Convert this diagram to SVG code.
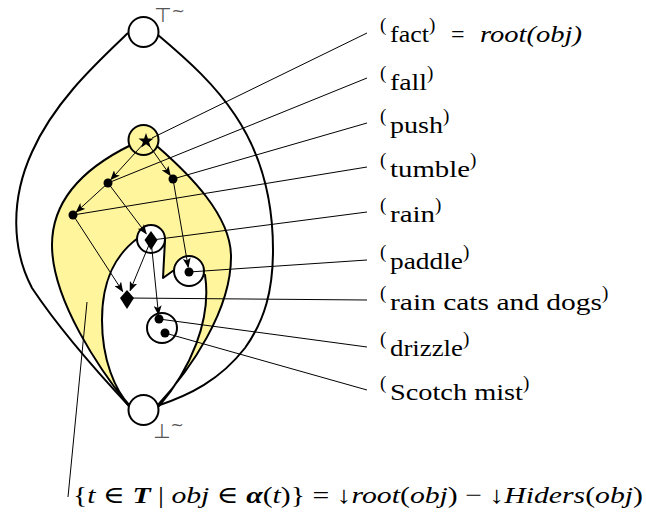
<svg xmlns="http://www.w3.org/2000/svg" width="646" height="520" viewBox="0 0 646 520">
<defs>
<style>
.bd{fill:none;stroke:#000;stroke-width:2}
.ci{stroke:#000;stroke-width:2}
.ld{stroke:#000;stroke-width:1;fill:none}
.ar{stroke:#000;stroke-width:1;fill:none;marker-end:url(#ah)}
.lb{font-family:"Liberation Serif","DejaVu Serif",serif;font-size:24px;fill:#000}
.pr{font-size:19px}
.it{font-style:italic}
.gl{font-family:"DejaVu Sans","Liberation Sans",sans-serif;font-size:20px;fill:#555}
</style>
<marker id="ah" viewBox="0 0 10 8" refX="9" refY="4" markerWidth="10" markerHeight="8" markerUnits="userSpaceOnUse" orient="auto">
<path d="M0,0 L10,4 L0,8 L2.5,4 Z" fill="#000"/>
</marker>
</defs>
<rect width="646" height="520" fill="#fff"/>
<g id="regions">
<path class="bd" d="M128,33 C 100,60 55,100 32,152 C 10,200 12,250 32,288 C 60,330 100,375 129,406 M158,35 C 190,62 215,85 235,115 C 262,155 273,200 273,250 C 273,290 265,320 245,348 C 220,380 190,395 157,406"/>
<path d="M131,145 C 90,165 52,195 52,245 C 52,300 100,370 129,406 L157,406 C 190,370 232,310 231,255 C 230,215 190,175 158,147 Z M138,238 C 115,255 102,280 102,320 C 102,360 115,390 130,406 L159,406 C 190,370 212,320 205,275 L177,268 L163,278 L165,240 Z" fill="#fff59d" fill-rule="evenodd" stroke="#000" stroke-width="2" stroke-linejoin="round"/>
</g>
<g id="top"><circle class="ci" cx="143.5" cy="32" r="15" fill="#fff"/><text class="gl" x="154" y="22">⊤<tspan font-size="16" dy="-6">~</tspan></text></g>
<g id="bottom"><circle class="ci" cx="143.5" cy="410" r="15" fill="#fff"/><text class="gl" x="153" y="438">⊥<tspan font-size="16" dy="-8">~</tspan></text></g>
<g id="circles">
<circle class="ci" cx="143.5" cy="140" r="15" fill="#fff59d"/>
<circle class="ci" cx="151" cy="239" r="14" fill="#fff"/>
<circle class="ci" cx="189" cy="271" r="15" fill="#fff"/>
<circle class="ci" cx="162" cy="328" r="15" fill="none"/>
</g>
<g id="leaders">
<path class="ld" d="M367,33 L152,138 M367,78 L108,183 M367,123 L173,179 M367,167 L73,215 M367,212 L152,240 M367,260 L189,272 M367,300 L127,298 M367,347 L159,319 M367,390 L165,333 M68,497 L87,302"/>
</g>
<g id="connectors">
<path class="ar" d="M146,141 L110.9,179.5"/>
<path class="ar" d="M146,141 L170.3,175.4"/>
<path class="ar" d="M108,183 L76.3,212"/>
<path class="ar" d="M108,183 L146.2,233.6"/>
<path class="ar" d="M73,215 L122.6,291.3"/>
<path class="ar" d="M151,240 L130.1,290.6"/>
<path class="ar" d="M173,179 L188.2,267"/>
<path class="ar" d="M151,240 L158.5,314.5"/>
</g>
<g id="n-fact"><path d="M146,133 L147.9,138.4 L153.6,138.5 L149.1,142 L150.7,147.5 L146,144.2 L141.3,147.5 L142.9,142 L138.4,138.5 L144.1,138.4 Z" fill="#000"/>
<text class="lb" x="380" y="42"><tspan class="pr" dy="-11">(</tspan><tspan x="390" dy="11" textLength="39" lengthAdjust="spacingAndGlyphs">fact</tspan><tspan class="pr" dy="-11">)</tspan><tspan dy="11" x="451">=</tspan><tspan class="it" x="480" textLength="102" lengthAdjust="spacingAndGlyphs">root(obj)</tspan></text></g>
<g id="n-fall"><circle cx="108" cy="183" r="4.5"/>
<text class="lb" x="380" y="90"><tspan class="pr" dy="-11">(</tspan><tspan x="390" dy="11" textLength="37" lengthAdjust="spacingAndGlyphs">fall</tspan><tspan class="pr" dy="-11">)</tspan></text></g>
<g id="n-push"><circle cx="173" cy="179" r="4.5"/>
<text class="lb" x="380" y="133"><tspan class="pr" dy="-11">(</tspan><tspan x="390" dy="11" textLength="53" lengthAdjust="spacingAndGlyphs">push</tspan><tspan class="pr" dy="-11">)</tspan></text></g>
<g id="n-tumble"><circle cx="73" cy="215" r="4.5"/>
<text class="lb" x="380" y="177"><tspan class="pr" dy="-11">(</tspan><tspan x="390" dy="11" textLength="80" lengthAdjust="spacingAndGlyphs">tumble</tspan><tspan class="pr" dy="-11">)</tspan></text></g>
<g id="n-rain"><path d="M151,231 L157.5,240 L151,250 L144.5,240 Z" fill="#000"/>
<text class="lb" x="380" y="222"><tspan class="pr" dy="-11">(</tspan><tspan x="390" dy="11" textLength="45" lengthAdjust="spacingAndGlyphs">rain</tspan><tspan class="pr" dy="-11">)</tspan></text></g>
<g id="n-paddle"><circle cx="189" cy="272" r="4.5"/>
<text class="lb" x="380" y="269"><tspan class="pr" dy="-11">(</tspan><tspan x="390" dy="11" textLength="73" lengthAdjust="spacingAndGlyphs">paddle</tspan><tspan class="pr" dy="-11">)</tspan></text></g>
<g id="n-rcd"><path d="M127,290 L134,298 L127,309 L120,298 Z" fill="#000"/>
<text class="lb" x="380" y="310"><tspan class="pr" dy="-11">(</tspan><tspan x="390" dy="11" textLength="212" lengthAdjust="spacingAndGlyphs">rain cats and dogs</tspan><tspan class="pr" dy="-11">)</tspan></text></g>
<g id="n-drizzle"><circle cx="159" cy="319" r="4.5"/>
<text class="lb" x="380" y="356"><tspan class="pr" dy="-11">(</tspan><tspan x="390" dy="11" textLength="73" lengthAdjust="spacingAndGlyphs">drizzle</tspan><tspan class="pr" dy="-11">)</tspan></text></g>
<g id="n-scotch"><circle cx="165" cy="333" r="4.5"/>
<text class="lb" x="380" y="400"><tspan class="pr" dy="-11">(</tspan><tspan x="390" dy="11" textLength="133" lengthAdjust="spacingAndGlyphs">Scotch mist</tspan><tspan class="pr" dy="-11">)</tspan></text></g>
<g id="formula">
<text class="lb" x="73" y="503" textLength="570" lengthAdjust="spacingAndGlyphs">{<tspan class="it">t</tspan> ∈ <tspan font-weight="bold" class="it">T</tspan> | <tspan class="it">obj</tspan> ∈ <tspan font-weight="bold" class="it">α</tspan>(<tspan class="it">t</tspan>)} = ↓<tspan class="it">root</tspan>(<tspan class="it">obj</tspan>) − ↓<tspan class="it">Hiders</tspan>(<tspan class="it">obj</tspan>)</text>
</g>
</svg>
